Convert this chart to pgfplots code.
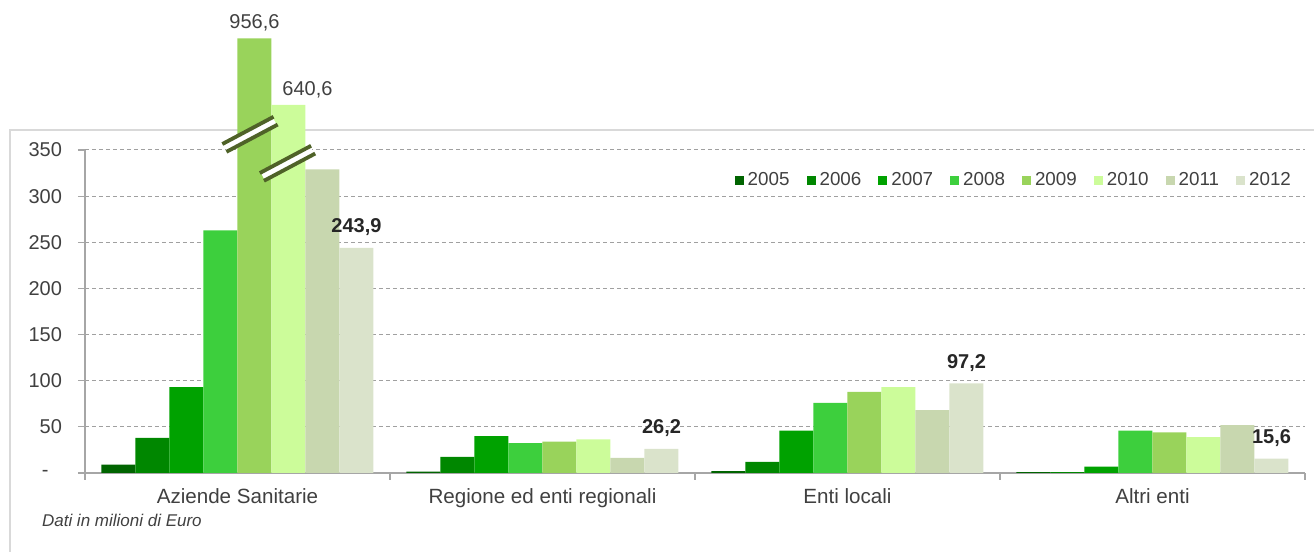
\documentclass[border=0pt]{standalone}
\usepackage{pgfplots}
\pgfplotsset{compat=1.18}
\usepackage{fontspec}
\setmainfont{Liberation Sans}

\definecolor{c2005}{HTML}{006400}
\definecolor{c2006}{HTML}{008700}
\definecolor{c2007}{HTML}{00A200}
\definecolor{c2008}{HTML}{3DCF3D}
\definecolor{c2009}{HTML}{99D35B}
\definecolor{c2010}{HTML}{CCFC9A}
\definecolor{c2011}{HTML}{C8D7AF}
\definecolor{c2012}{HTML}{DAE3CB}
\definecolor{axisgray}{HTML}{A6A6A6}
\definecolor{gridgray}{HTML}{A0A0A0}
\definecolor{framegray}{HTML}{D9D9D9}
\definecolor{txt}{HTML}{404040}
\definecolor{brk}{HTML}{4F6228}

\pgfplotsset{
  sq legend/.style={legend image code/.code={\fill[##1] (0pt,-2.25pt) rectangle (4.5pt,2.25pt);}},
  yr/.style={fill=#1, draw=none, sq legend},
}
\newcommand{\lbl}[1]{\pgfmathprintnumber[use comma,fixed,fixed zerofill,precision=1,assume math mode=true]{#1}}

\begin{document}
\begin{tikzpicture}
% cornice del grafico
\draw[framegray, line width=0.6pt] (-37.5pt,-45pt) -- (-37.5pt,171.5pt) -- (620pt,171.5pt);
\begin{axis}[
    at={(0,0)}, anchor=origin,
    scale only axis, width=610pt, height=161.5pt,
    xmin=0, xmax=4, ymin=0, ymax=350,
    clip=false,
    ybar=0pt, bar width=17pt,
    axis x line*=bottom, axis y line*=left,
    axis line style={axisgray, line width=0.6pt, -},
    tick style={axisgray, line width=0.6pt},
    tick align=outside, major tick length=3.5pt,
    ytick={0,50,...,350},
    yticklabels={{\makebox[10pt][l]{-}},50,100,150,200,250,300,350},
    yticklabel style={font=\fontsize{10}{12}\selectfont, xshift=-4.5pt},
    xtick={0,1,2,3,4}, xticklabels={},
    extra x ticks={0.5,1.5,2.5,3.5},
    extra x tick labels={Aziende Sanitarie, Regione ed enti regionali, Enti locali, Altri enti},
    extra x tick style={major tick length=0pt, grid=none,
        xticklabel style={font=\fontsize{10.3}{12}\selectfont, yshift=-4.5pt}},
    tick label style={text=txt},
    ymajorgrids,
    grid style={gridgray, line width=0.5pt, dash pattern=on 2pt off 1.5pt},
    legend columns=8,
    legend style={draw=none, fill=none, at={(0.997,0.905)}, anchor=east,
        font=\fontsize{9.4}{11}\selectfont, text=txt,
        /tikz/every even column/.append style={column sep=6.5pt}},
]
\addplot[yr=c2005] coordinates {(0.5,9) (1.5,1.5) (2.5,2) (3.5,1)};
\addlegendentry{2005}
\addplot[yr=c2006] coordinates {(0.5,38) (1.5,17.5) (2.5,12) (3.5,1)};
\addlegendentry{2006}
\addplot[yr=c2007] coordinates {(0.5,93) (1.5,40) (2.5,46) (3.5,7)};
\addlegendentry{2007}
\addplot[yr=c2008] coordinates {(0.5,263) (1.5,32.5) (2.5,76) (3.5,46)};
\addlegendentry{2008}
% barre spezzate: valore reale nei dati, altezza disegnata limitata
\addplot[yr=c2009, restrict y to domain*=0:471,
    point meta=explicit symbolic, nodes near coords,
    every node near coord/.append style={font=\fontsize{10}{12}\selectfont, text=txt}]
    coordinates {(0.5,956.6) [956,6] (1.5,34) [] (2.5,88) [] (3.5,44) []};
\addlegendentry{2009}
\addplot[yr=c2010, restrict y to domain*=0:399,
    point meta=explicit symbolic, nodes near coords,
    every node near coord/.append style={font=\fontsize{10}{12}\selectfont, text=txt, xshift=9.5pt}]
    coordinates {(0.5,640.6) [640,6] (1.5,36.5) [] (2.5,93) [] (3.5,39) []};
\addlegendentry{2010}
\addplot[yr=c2011] coordinates {(0.5,329) (1.5,16.5) (2.5,68) (3.5,52)};
\addlegendentry{2011}
\addplot[yr=c2012, nodes near coords={\lbl{\pgfplotspointmeta}},
    every node near coord/.append style={font=\bfseries\fontsize{10}{12}\selectfont, text=black!85, yshift=2.5pt}]
    coordinates {(0.5,243.9) (1.5,26.2) (2.5,97.2) (3.5,15.6)};
\addlegendentry{2012}

% segni di interruzione
\draw[white, line width=4.5pt, shift={(axis cs:0.541,367)}, rotate=28] (-14pt,0) -- (14pt,0);
\draw[brk, line width=1.9pt, shift={(axis cs:0.541,367)}, rotate=28] (-14.5pt,2.2pt) -- (14.5pt,2.2pt) (-14.5pt,-2.2pt) -- (14.5pt,-2.2pt);
\draw[white, line width=4.5pt, shift={(axis cs:0.664,335.6)}, rotate=28] (-14pt,0) -- (14pt,0);
\draw[brk, line width=1.9pt, shift={(axis cs:0.664,335.6)}, rotate=28] (-14.5pt,2.2pt) -- (14.5pt,2.2pt) (-14.5pt,-2.2pt) -- (14.5pt,-2.2pt);
\end{axis}
\node[anchor=west, font=\itshape\fontsize{8.5}{10}\selectfont, text=txt] at (-25pt,-23.5pt) {Dati in milioni di Euro};
\pgfresetboundingbox
\useasboundingbox (-42.5pt,-39.5pt) rectangle (614.5pt,236.5pt);
\end{tikzpicture}
\end{document}
